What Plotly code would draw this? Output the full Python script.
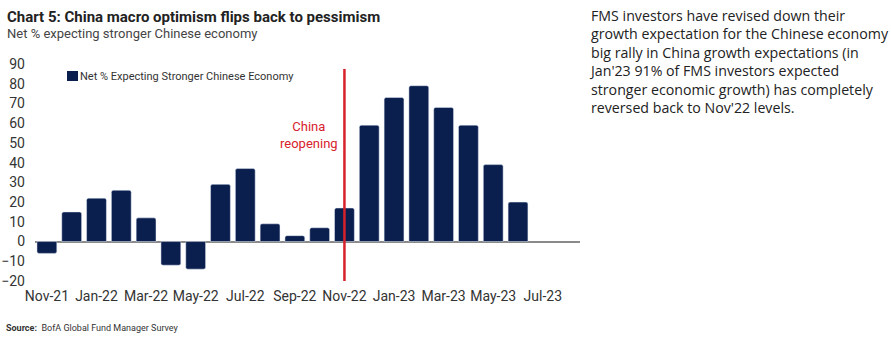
import plotly.graph_objects as go

months = ["Nov-21", "Dec-21", "Jan-22", "Feb-22", "Mar-22", "Apr-22", "May-22", "Jun-22",
          "Jul-22", "Aug-22", "Sep-22", "Oct-22", "Nov-22", "Dec-22", "Jan-23", "Feb-23",
          "Mar-23", "Apr-23", "May-23", "Jun-23", "Jul-23"]
values = [-6, 15, 22, 26, 12, -12, -14, 29, 37, 9, 3, 7, 17, 59, 73, 79, 68, 59, 39, 20, None]
tick_labels = ["Nov-21", "Jan-22", "Mar-22", "May-22", "Jul-22", "Sep-22", "Nov-22",
               "Jan-23", "Mar-23", "May-23", "Jul-23"]
series_name = "Net % Expecting Stronger Chinese Economy"
reopening_month = "Nov-22"

NAVY = "#0b1f4f"
RED = "#d7212b"
FONT = "Roboto, sans-serif"
idx = list(range(len(months)))

# plot area in pixels: x 35..580, y 64..281
L, R, T, B = 35, 580, 64, 281
PW, PH = R - L, B - T
def px(xp):
    return (xp - L) / PW
def py(yp):
    return 1 - (yp - T) / PH

fig = go.Figure()
fig.add_trace(go.Bar(
    x=idx, y=values, name=series_name,
    marker=dict(color=NAVY, cornerradius=2), width=0.8, showlegend=False,
))

ri = months.index(reopening_month)
fig.add_shape(type="line", xref="x", yref="y", x0=ri, x1=ri, y0=-23, y1=87.5,
              line=dict(color=RED, width=2.5))
fig.add_annotation(x=ri, xref="x", y=54, yref="y", xanchor="right", xshift=-4,
                   text="China<br>reopening", showarrow=False, align="center",
                   font=dict(family=FONT, size=13, color=RED))

# legend key
fig.add_shape(type="rect", xref="paper", yref="paper", x0=px(67), x1=px(78),
              y0=py(81), y1=py(71), fillcolor=NAVY, line=dict(width=0))
fig.add_annotation(xref="paper", yref="paper", x=px(78), y=py(76), xanchor="left",
                   yanchor="middle", showarrow=False, text=series_name,
                   font=dict(family=FONT, size=11, color="#333333"))

fig.update_layout(
    width=891, height=342,
    margin=dict(l=L, r=891 - R, t=T, b=342 - B),
    paper_bgcolor="white", plot_bgcolor="white",
    font=dict(family=FONT, color="#333333", size=12),
    showlegend=False,
    xaxis=dict(range=[-0.48, 21.5], tickmode="array", automargin=False,
               tickvals=[months.index(m) for m in tick_labels], ticktext=tick_labels,
               showgrid=False, showline=False, ticks="", zeroline=False,
               tickfont=dict(family=FONT, size=14, color="#333333"), ticklabelstandoff=5),
    yaxis=dict(range=[-20, 90], dtick=10, showgrid=False, showline=False, ticks="",
               automargin=False,
               zeroline=True, zerolinecolor="#8a8a8a", zerolinewidth=2,
               tickfont=dict(family=FONT, size=14, color="#333333"), ticklabelstandoff=9),
)

fig.add_annotation(xref="paper", yref="paper", x=px(5), y=py(17),
                   xanchor="left", yanchor="middle", showarrow=False,
                   text="<b>Chart 5: China macro optimism flips back to pessimism</b>",
                   font=dict(family=FONT, size=15, color="#222222"))
fig.add_annotation(xref="paper", yref="paper", x=px(5), y=py(34),
                   xanchor="left", yanchor="middle", showarrow=False,
                   text="Net % expecting stronger Chinese economy",
                   font=dict(family=FONT, size=13, color="#444444"))
fig.add_annotation(xref="paper", yref="paper", x=px(4), y=py(328),
                   xanchor="left", yanchor="middle", showarrow=False,
                   text="<b>Source:</b>  BofA Global Fund Manager Survey",
                   font=dict(family=FONT, size=9, color="#333333"))
fig.add_annotation(xref="paper", yref="paper", x=px(587), y=py(4),
                   xanchor="left", yanchor="top", showarrow=False, align="left",
                   text=("FMS investors have revised down their<br>"
                         "growth expectation for the Chinese economy<br>"
                         "big rally in China growth expectations (in<br>"
                         "Jan'23 91% of FMS investors expected<br>"
                         "stronger economic growth) has completely<br>"
                         "reversed back to Nov'22 levels."),
                   font=dict(family="Open Sans, sans-serif", size=14.2, color="#222222"))

fig.write_html("out.html")
